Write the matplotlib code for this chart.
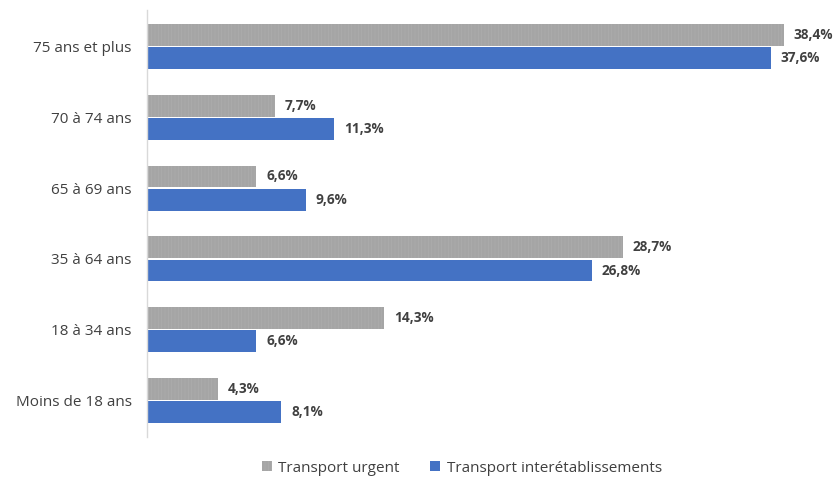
import matplotlib
matplotlib.use("Agg")
import matplotlib.pyplot as plt
import numpy as np

plt.rcParams['font.family'] = ['Open Sans', 'DejaVu Sans']
plt.rcParams['hatch.linewidth'] = 0.5

categories = ["Moins de 18 ans", "18 à 34 ans", "35 à 64 ans", "65 à 69 ans", "70 à 74 ans", "75 ans et plus"]
urgent = [4.3, 14.3, 28.7, 6.6, 7.7, 38.4]
inter = [8.1, 6.6, 26.8, 9.6, 11.3, 37.6]
series_names = ["Transport urgent", "Transport interétablissements"]

fig = plt.figure(figsize=(8.35, 4.78), dpi=100)
ax = fig.add_axes([147/835, 1-437/478, 663.6/835, 427/478])

y = np.arange(len(categories))
h = 0.31
gray = '#A5A5A5'
blue = '#4472C4'
b1 = ax.barh(y + h/2 + 0.01, urgent, height=h, color=gray, edgecolor='#adadad', hatch='|||||', linewidth=0, label=series_names[0])
b2 = ax.barh(y - h/2 - 0.01, inter, height=h, color=blue, linewidth=0, label=series_names[1])

def fmt(v):
    return f"{v:.1f}%".replace('.', ',')

for bars, vals in ((b1, urgent), (b2, inter)):
    for bar, v in zip(bars, vals):
        ax.annotate(fmt(v), (bar.get_width(), bar.get_y() + bar.get_height()/2),
                    xytext=(7, 0), textcoords='offset points', va='center', ha='left',
                    fontsize=9.8, fontweight='bold', color='#404040')

ax.set_xlim(0, 40)
ax.set_ylim(-0.52, 5.52)
ax.set_yticks(y)
ax.set_yticklabels(categories, fontsize=11, color='#404040')
ax.tick_params(axis='y', length=0, pad=11)
ax.set_xticks([])
for s in ['top', 'right', 'bottom']:
    ax.spines[s].set_visible(False)
ax.spines['left'].set_color('#d9d9d9')
ax.spines['left'].set_linewidth(1)

leg = fig.legend(handles=[b1, b2], labels=series_names, loc='center', bbox_to_anchor=(462/835, 1-468/478),
                 ncol=2, frameon=False, fontsize=11, handlelength=0.65, handleheight=0.65,
                 handletextpad=0.4, columnspacing=2.0)
for t in leg.get_texts():
    t.set_color('#404040')

fig.savefig('out.png', dpi=100)
